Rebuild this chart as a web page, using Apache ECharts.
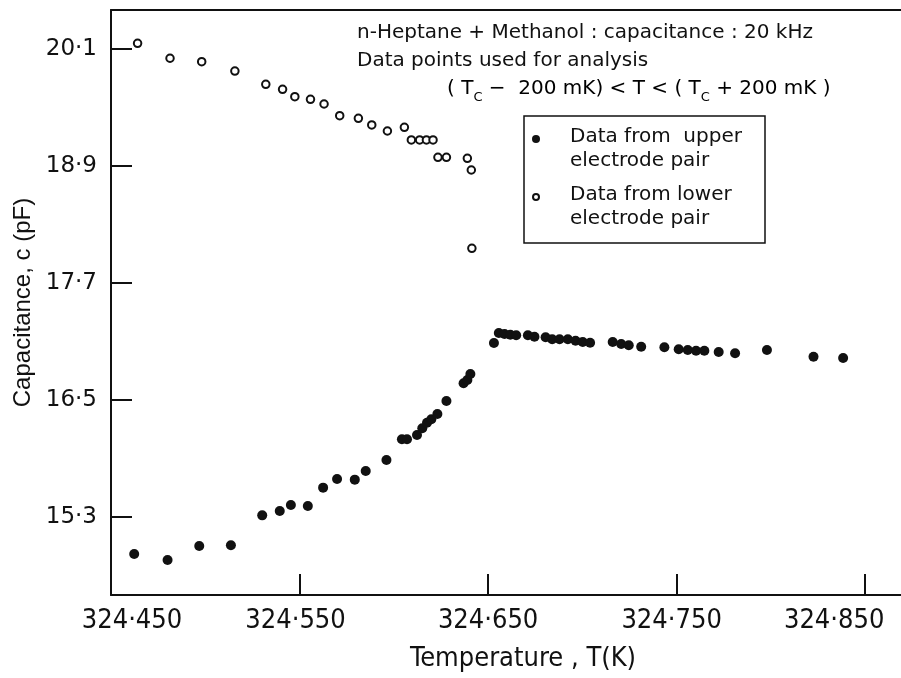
<!DOCTYPE html>
<html>
<head>
<meta charset="utf-8">
<script src="https://cdn.jsdelivr.net/npm/echarts@6/dist/echarts.min.js"></script>
<style>
html,body{margin:0;padding:0;background:#fff;}
#chart{width:901px;height:678px;}
</style>
</head>
<body>
<div id="chart"></div>
<script>
// Data from upper electrode pair (filled dots)
const tempUpper = [324.4623, 324.4800, 324.4968, 324.5136, 324.5302, 324.5395, 324.5454, 324.5544, 324.5625, 324.5699, 324.5793, 324.5851, 324.5961, 324.6043, 324.6070, 324.6123, 324.6151, 324.6176, 324.6199, 324.6231, 324.6279, 324.6370, 324.6390, 324.6406, 324.6531, 324.6557, 324.6587, 324.6618, 324.6649, 324.6711, 324.6746, 324.6805, 324.6840, 324.6879, 324.6923, 324.6964, 324.7002, 324.7041, 324.7161, 324.7206, 324.7246, 324.7312, 324.7435, 324.7511, 324.7559, 324.7603, 324.7647, 324.7723, 324.7810, 324.7979, 324.8226, 324.8383];
const capUpper = [14.921, 14.859, 15.003, 15.010, 15.317, 15.362, 15.423, 15.413, 15.601, 15.690, 15.683, 15.772, 15.885, 16.097, 16.097, 16.141, 16.210, 16.267, 16.302, 16.356, 16.490, 16.671, 16.705, 16.767, 17.085, 17.187, 17.177, 17.170, 17.164, 17.164, 17.149, 17.143, 17.123, 17.123, 17.123, 17.108, 17.095, 17.088, 17.095, 17.074, 17.061, 17.047, 17.041, 17.020, 17.013, 17.006, 17.006, 16.992, 16.979, 17.013, 16.944, 16.931];

// Data from lower electrode pair (open circles)
const tempLower = [324.4641, 324.4813, 324.4981, 324.5157, 324.5321, 324.5410, 324.5475, 324.5558, 324.5630, 324.5713, 324.5812, 324.5883, 324.5966, 324.6056, 324.6093, 324.6137, 324.6173, 324.6208, 324.6234, 324.6279, 324.6390, 324.6411, 324.6414];
const capLower = [20.158, 20.005, 19.970, 19.874, 19.738, 19.687, 19.611, 19.584, 19.536, 19.416, 19.389, 19.321, 19.259, 19.297, 19.167, 19.167, 19.167, 19.167, 18.989, 18.989, 18.979, 18.859, 18.056];

// Tick labels
const xTickLabels = [324.45, 324.55, 324.65, 324.75, 324.85];
const xTickMarks = [324.55, 324.65, 324.75, 324.85];
const yTicks = [15.3, 16.5, 17.7, 18.9, 20.1];

const seriesNames = ['Data from upper electrode pair', 'Data from lower electrode pair'];

const zip = (a, b) => a.map((v, i) => [v, b[i]]);
const INK = '#111';
const TXT = 'DejaVu Sans, Noto Sans, sans-serif';
const NARROW = 'Liberation Sans Narrow, DejaVu Sans Condensed, Liberation Sans, sans-serif';

const chart = echarts.init(document.getElementById('chart'), null, {renderer: 'canvas'});

const XF = 27;
const xLabelRich = {
  a: {fontFamily: NARROW, fontSize: XF, color: INK, padding: [0, 0, 0, 42]},
  b: {fontFamily: NARROW, fontSize: XF, color: INK, padding: [0, 8, 0, 0]},
  c: {fontFamily: NARROW, fontSize: XF, color: INK},
  d: {fontFamily: NARROW, fontSize: XF, color: INK, padding: [0, 10, 0, 0]},
  e: {fontFamily: NARROW, fontSize: XF, color: INK, padding: [0, 62, 0, 0]}
};
const xStyleKeys = ['a', 'b', 'c', 'd', 'e'];

const option = {
  backgroundColor: '#fff',
  animation: false,
  grid: {left: 111, right: 0, top: 10, bottom: 83, containLabel: false, outerBoundsMode: 'none'},
  xAxis: [{
    type: 'value',
    min: 324.45,
    max: 324.869,
    name: 'Temperature , T(K)',
    nameLocation: 'middle',
    nameGap: 50,
    nameTextStyle: {fontFamily: NARROW, fontSize: XF, color: INK, padding: [0, 0, 0, 34]},
    axisLine: {show: true, onZero: false, lineStyle: {color: INK, width: 2}},
    axisTick: {show: true, inside: true, length: 21, customValues: xTickMarks, lineStyle: {color: INK, width: 2}},
    axisLabel: {
      show: true, margin: 12, customValues: xTickLabels, showMinLabel: true, showMaxLabel: true,
      formatter: function (v) {
        let idx = 0, best = 1e9;
        xTickLabels.forEach((t, i) => { const d = Math.abs(t - v); if (d < best) { best = d; idx = i; } });
        return '{' + xStyleKeys[idx] + '|' + xTickLabels[idx].toFixed(3).replace('.', '·') + '}';
      },
      rich: xLabelRich
    },
    splitLine: {show: false}
  }, {
    type: 'value',
    position: 'top',
    min: 324.45,
    max: 324.869,
    axisLine: {show: true, onZero: false, lineStyle: {color: INK, width: 2}},
    axisTick: {show: false},
    axisLabel: {show: false},
    splitLine: {show: false}
  }],
  yAxis: {
    type: 'value',
    min: 14.5,
    max: 20.5,
    name: 'Capacitance, c (pF)',
    nameLocation: 'middle',
    nameGap: 76,
    nameRotate: 90,
    nameTextStyle: {fontFamily: 'Liberation Sans, Arial, sans-serif', fontSize: 24, color: INK},
    axisLine: {show: true, onZero: false, lineStyle: {color: INK, width: 2}},
    axisTick: {show: true, inside: true, length: 21, customValues: yTicks, lineStyle: {color: INK, width: 2}},
    axisLabel: {
      show: true, margin: 14, customValues: yTicks,
      fontFamily: TXT, fontSize: 23, color: INK,
      formatter: v => v.toFixed(1).replace('.', '·')
    },
    splitLine: {show: false}
  },
  series: [{
    name: seriesNames[0],
    type: 'scatter',
    xAxisIndex: 0,
    data: zip(tempUpper, capUpper),
    symbol: 'circle',
    symbolSize: 10,
    itemStyle: {color: INK, opacity: 1}
  }, {
    name: seriesNames[1],
    type: 'scatter',
    xAxisIndex: 0,
    data: zip(tempLower, capLower),
    symbol: 'emptyCircle',
    symbolSize: 7.5,
    itemStyle: {color: INK, borderColor: INK, borderWidth: 2, opacity: 1}
  }],
  graphic: [
    {type: 'text', left: 357, top: 23, style: {text: 'n-Heptane + Methanol : capacitance : 20 kHz', font: '20px ' + TXT, fill: INK}},
    {type: 'text', left: 357, top: 51, style: {text: 'Data points used for analysis', font: '20px ' + TXT, fill: INK}},
    {type: 'text', left: 447, top: 74, style: {
      text: '{n|( T}{s|C}{n| −  200 mK) < T < ( T}{s|C}{n| + 200 mK )}',
      rich: {
        n: {fontFamily: TXT, fontSize: 20, lineHeight: 24, color: INK},
        s: {fontFamily: TXT, fontSize: 13, lineHeight: 14, padding: [17, 0, 0, 0], color: INK}
      }
    }},
    {type: 'rect', shape: {x: 524, y: 116, width: 241, height: 127}, style: {fill: 'none', stroke: INK, lineWidth: 1.5}},
    {type: 'circle', shape: {cx: 536, cy: 139, r: 4}, style: {fill: INK}},
    {type: 'circle', shape: {cx: 536, cy: 197, r: 3}, style: {fill: '#fff', stroke: INK, lineWidth: 2}},
    {type: 'text', left: 570, top: 127, style: {text: 'Data from  upper', font: '20px ' + TXT, fill: INK}},
    {type: 'text', left: 570, top: 151, style: {text: 'electrode pair', font: '20px ' + TXT, fill: INK}},
    {type: 'text', left: 570, top: 185, style: {text: 'Data from lower', font: '20px ' + TXT, fill: INK}},
    {type: 'text', left: 570, top: 209, style: {text: 'electrode pair', font: '20px ' + TXT, fill: INK}}
  ]
};
chart.setOption(option);
</script>
</body>
</html>
